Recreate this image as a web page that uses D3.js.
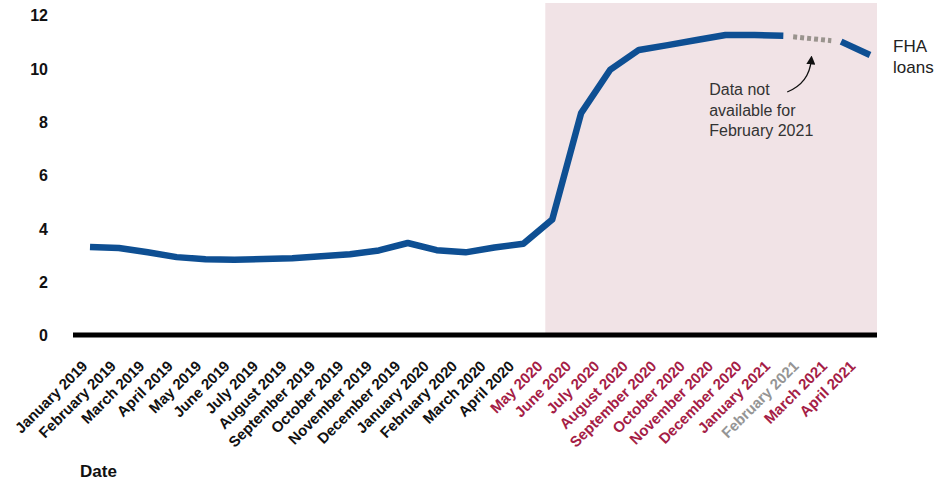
<!DOCTYPE html>
<html>
<head>
<meta charset="utf-8">
<script src="https://cdn.jsdelivr.net/npm/d3@7"></script>
<style>
  html, body { margin: 0; padding: 0; background: #fff; }
  svg { display: block; font-family: Arial, "Liberation Sans", sans-serif; }
</style>
</head>
<body>
<svg id="chart" width="951" height="482"></svg>
<script>
// ---- data ----
const months = ["January 2019", "February 2019", "March 2019", "April 2019", "May 2019", "June 2019",
  "July 2019", "August 2019", "September 2019", "October 2019", "November 2019", "December 2019",
  "January 2020", "February 2020", "March 2020", "April 2020", "May 2020", "June 2020", "July 2020",
  "August 2020", "September 2020", "October 2020", "November 2020", "December 2020", "January 2021",
  "February 2021", "March 2021", "April 2021"];
const fhaValues = [3.30, 3.26, 3.10, 2.92, 2.84, 2.82, 2.85, 2.88, 2.95, 3.03, 3.17, 3.45,
  3.18, 3.10, 3.28, 3.42, 4.33, 8.32, 9.94, 10.69, 10.87, 11.06, 11.25, 11.25, 11.22,
  null, 11.00, 10.50];
const yTicks = [0, 2, 4, 6, 8, 10, 12];
const shadeStart = "May 2020";
const shadeEnd = "April 2021";
const missingMonth = "February 2021";
const seriesLabel = ["FHA", "loans"];
const noteLines = ["Data not", "available for", "February 2021"];
const xTitle = "Date";

// ---- layout ----
const svg = d3.select("#chart");
const x = d3.scalePoint().domain(months).range([90, 870]);
const xLab = d3.scalePoint().domain(months).range([89, 857]);
const y = d3.scaleLinear().domain([0, 12]).range([335, 15]);
const step = x.step();

const blue = "#0e4f93";
const red = "#a51d46";
const grey = "#959595";

// shaded period
svg.append("rect")
  .attr("x", x(shadeStart) - step * 0.24)
  .attr("y", 3)
  .attr("width", x(shadeEnd) + 7 - (x(shadeStart) - step * 0.24))
  .attr("height", y(0) - 3)
  .attr("fill", "#f1e3e6");

// y axis labels
const yAxis = d3.axisLeft(y).tickValues(yTicks).tickSize(0).tickPadding(0);
const gy = svg.append("g").attr("transform", "translate(48,0)").call(yAxis);
gy.select(".domain").remove();
gy.selectAll("text")
  .attr("font-size", 16).attr("font-weight", "bold").attr("fill", "#111")
  .attr("font-family", "Arial, 'Liberation Sans', sans-serif")
  .attr("dy", "0.36em");

// baseline
svg.append("line")
  .attr("x1", 73).attr("x2", x(shadeEnd) + 7)
  .attr("y1", y(0)).attr("y2", y(0))
  .attr("stroke", "#000").attr("stroke-width", 5);

// x axis labels
const xAxis = d3.axisBottom(xLab).tickSize(0).tickPadding(0);
const gx = svg.append("g").attr("transform", `translate(0,${y(0)})`).call(xAxis);
gx.select(".domain").remove();
gx.selectAll("text")
  .attr("font-size", 15).attr("font-weight", "bold")
  .attr("font-family", "Arial, 'Liberation Sans', sans-serif")
  .attr("text-anchor", "end")
  .attr("x", 0).attr("y", 0).attr("dy", 0)
  .attr("transform", "translate(-1,32) rotate(-45)")
  .attr("fill", d => {
    const i = months.indexOf(d);
    if (d === missingMonth) return grey;
    return i >= months.indexOf(shadeStart) ? red : "#111";
  });

// main line (solid, gaps where data missing)
const data = months.map((m, i) => ({ m, v: fhaValues[i] }));
const line = d3.line()
  .defined(d => d.v !== null)
  .x(d => x(d.m)).y(d => y(d.v));
svg.append("path")
  .datum(data)
  .attr("d", line)
  .attr("fill", "none")
  .attr("stroke", blue)
  .attr("stroke-width", 6.5)
  .attr("stroke-linejoin", "round");

// dashed bridge over missing month
const mi = months.indexOf(missingMonth);
const a = data[mi - 1], b = data[mi + 1];
const t0 = 0.17, t1 = 0.83;
const bx0 = x(a.m) + (x(b.m) - x(a.m)) * t0, by0 = y(a.v) + (y(b.v) - y(a.v)) * t0;
const bx1 = x(a.m) + (x(b.m) - x(a.m)) * t1, by1 = y(a.v) + (y(b.v) - y(a.v)) * t1;
svg.append("line")
  .attr("x1", bx0).attr("y1", by0).attr("x2", bx1).attr("y2", by1)
  .attr("stroke", "#9a948e").attr("stroke-width", 5)
  .attr("stroke-dasharray", "4,3");

// annotation
const nx = x(missingMonth) - 103;
const note = svg.append("text")
  .attr("font-size", 16).attr("fill", "#333")
  .attr("font-family", "Arial, 'Liberation Sans', sans-serif");
noteLines.forEach((t, i) => {
  note.append("tspan").attr("x", nx).attr("y", 95 + i * 20.5).text(t);
});

svg.append("defs").append("marker")
  .attr("id", "ah").attr("viewBox", "0 0 10 10")
  .attr("refX", 5).attr("refY", 5)
  .attr("markerWidth", 9).attr("markerHeight", 9)
  .attr("markerUnits", "userSpaceOnUse")
  .attr("orient", "auto")
  .append("path").attr("d", "M0,0 L10,5 L0,10 Z").attr("fill", "#111");

const ax = x(missingMonth);
svg.append("path")
  .attr("d", `M${ax - 25},92 Q${ax - 3},83 ${ax - 1},60`)
  .attr("fill", "none").attr("stroke", "#111").attr("stroke-width", 1.3)
  .attr("marker-end", "url(#ah)");

// series label
const sl = svg.append("text")
  .attr("font-size", 17).attr("fill", "#222")
  .attr("font-family", "Arial, 'Liberation Sans', sans-serif");
seriesLabel.forEach((t, i) => {
  sl.append("tspan").attr("x", 893).attr("y", 52 + i * 21).text(t);
});

// x title
svg.append("text")
  .attr("x", 80).attr("y", 477)
  .attr("font-size", 17).attr("font-weight", "bold").attr("fill", "#111")
  .attr("font-family", "Arial, 'Liberation Sans', sans-serif")
  .text(xTitle);
</script>
</body>
</html>
